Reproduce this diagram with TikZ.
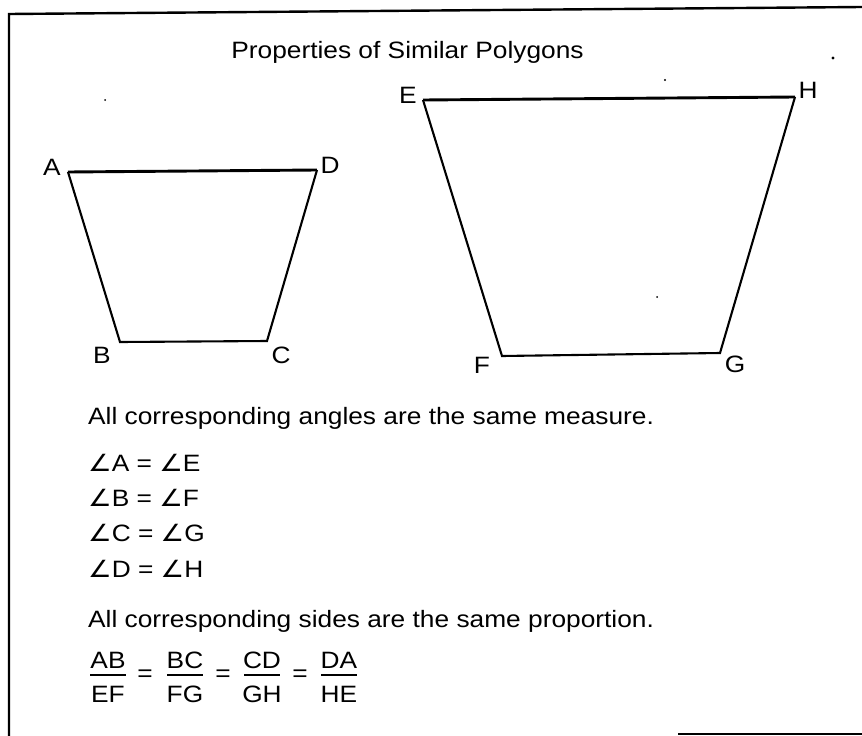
\documentclass[tikz,border=0pt]{standalone}
\usepackage{fontspec}
\setmainfont{Liberation Sans}
\newfontfamily\dejavu{DejaVu Sans}
\newcommand{\ang}{{\dejavu ∠}}
\newcommand{\txt}[1]{\scalebox{1}[0.9]{#1}}
\begin{document}
\begin{tikzpicture}[x=1pt,y=-1pt,
  lbl/.style={inner sep=0pt,anchor=base,font=\fontsize{26.3}{30}\selectfont},
  body/.style={inner sep=0pt,anchor=base west,font=\fontsize{26.3}{30}\selectfont},
  side/.style={line width=2.1pt,line join=miter},
  topside/.style={line width=2.9pt},
  frame/.style={line width=2.4pt},
  bar/.style={line width=1.4pt},
  speck/.style={fill=black}]
\useasboundingbox (0,0) rectangle (862,736);
% frame
\coordinate (f1) at (9,736);
\coordinate (f2) at (9,14);
\coordinate (f3) at (862,7);
\draw[frame] (f1) -- (f2) -- (f3);
\coordinate (b1) at (678,734);
\coordinate (b2) at (862,734);
\draw[frame] (b1) -- (b2);
% title
\node[lbl] (title) at (407.5,58) {\txt{Properties of Similar Polygons}};
% small polygon
\coordinate (A) at (68,172);
\coordinate (D) at (317,170);
\coordinate (C) at (267,341);
\coordinate (B) at (120,342);
\draw[topside] (A) -- (D);
\draw[side] (D) -- (C) -- (B) -- (A);
\node[lbl] (lA) at (52,175) {\txt{A}};
\node[lbl] (lD) at (330,173) {\txt{D}};
\node[lbl] (lB) at (102,363) {\txt{B}};
\node[lbl] (lC) at (281,363) {\txt{C}};
% large polygon
\coordinate (E) at (423,100);
\coordinate (H) at (795,97);
\coordinate (G) at (720,353);
\coordinate (F) at (502,356);
\draw[topside] (E) -- (H);
\draw[side] (H) -- (G) -- (F) -- (E);
\node[lbl] (lE) at (408,103) {\txt{E}};
\node[lbl] (lH) at (808,98) {\txt{H}};
\node[lbl] (lF) at (482,373) {\txt{F}};
\node[lbl] (lG) at (735,372) {\txt{G}};
% texts
\node[body] (s1) at (88,424) {\txt{All corresponding angles are the same measure.}};
\node[body] (a1) at (88,471) {\txt{\ang A = \ang E}};
\node[body] (a2) at (88,506) {\txt{\ang B = \ang F}};
\node[body] (a3) at (88,541) {\txt{\ang C = \ang G}};
\node[body] (a4) at (88,577) {\txt{\ang D = \ang H}};
\node[body] (s2) at (88,627) {\txt{All corresponding sides are the same proportion.}};
% fractions
\foreach \n/\d/\x [count=\i] in {AB/EF/108, BC/FG/185, CD/GH/262, DA/HE/339}{
  \node[lbl] (num\i) at (\x,668) {\txt{\n}};
  \node[lbl] (den\i) at (\x,702) {\txt{\d}};
  \draw[bar] (\x-18,675) -- (\x+18,675);
}
\foreach \x [count=\i] in {145,223,300}{
  \node[lbl] (eq\i) at (\x,681) {\txt{=}};
}
% scan specks
\fill[speck] (833,58) circle (1.6);
\fill[speck] (665,80) circle (1.1);
\fill[speck] (657,297) circle (1.0);
\fill[speck] (105,100) circle (1.0);
\end{tikzpicture}
\end{document}
